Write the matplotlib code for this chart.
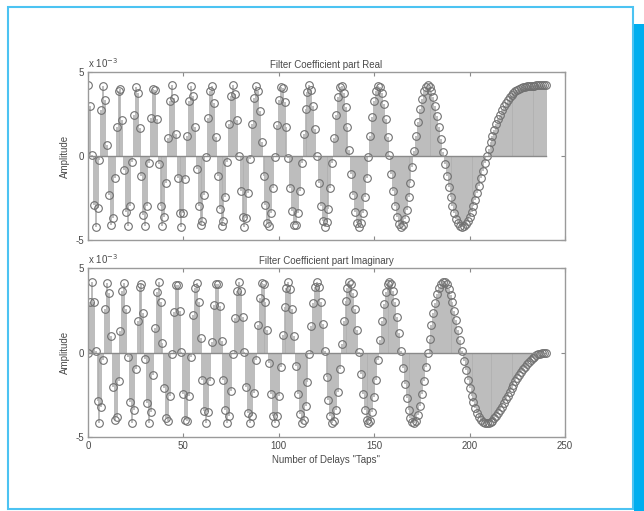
import numpy as np
import matplotlib
matplotlib.use('Agg')
import matplotlib.pyplot as plt
from matplotlib.patches import Rectangle

# Data (amplitude in units of 1e-3), taps 0..240
taps = np.arange(241)

coef_real = [
    4.20, 2.97, 0.03, -2.93, -4.20, -3.09, -0.25, 2.72, 4.18, 3.34,
    0.68, -2.33, -4.08, -3.67, -1.32, 1.70, 3.84, 4.00, 2.12, -0.81,
    -3.33, -4.19, -2.99, -0.34, 2.47, 4.08, 3.75, 1.66, -1.19, -3.49,
    -4.18, -2.97, -0.44, 2.28, 3.99, 3.94, 2.19, -0.49, -2.95, -4.16,
    -3.64, -1.61, 1.06, 3.29, 4.20, 3.43, 1.32, -1.29, -3.40, -4.20,
    -3.41, -1.36, 1.19, 3.29, 4.19, 3.58, 1.71, -0.76, -2.95, -4.12,
    -3.88, -2.34, -0.03, 2.28, 3.84, 4.15, 3.14, 1.15, -1.19, -3.15,
    -4.14, -3.88, -2.47, -0.34, 1.88, 3.55, 4.20, 3.67, 2.12, 0.01,
    -2.10, -3.63, -4.20, -3.67, -2.19, -0.17, 1.88, 3.46, 4.18, 3.88,
    2.66, 0.83, -1.19, -2.93, -3.99, -4.15, -3.40, -1.91, -0.03, 1.85,
    3.33, 4.12, 4.06, 3.20, 1.71, -0.10, -1.88, -3.29, -4.08, -4.12,
    -3.41, -2.11, -0.44, 1.29, 2.79, 3.81, 4.20, 3.90, 2.99, 1.61,
    0.00, -1.60, -2.95, -3.86, -4.20, -3.94, -3.14, -1.91, -0.44, 1.08,
    2.45, 3.49, 4.08, 4.17, 3.75, 2.90, 1.71, 0.34, -1.06, -2.33,
    -3.33, -3.98, -4.20, -4.00, -3.40, -2.47, -1.32, -0.06, 1.19, 2.33,
    3.25, 3.88, 4.18, 4.13, 3.75, 3.09, 2.19, 1.15, 0.03, -1.08,
    -2.10, -2.97, -3.62, -4.04, -4.20, -4.10, -3.75, -3.20, -2.47, -1.61,
    -0.68, 0.27, 1.19, 2.05, 2.79, 3.39, 3.84, 4.11, 4.20, 4.12,
    3.88, 3.50, 2.99, 2.38, 1.71, 0.99, 0.25, -0.49, -1.19, -1.85,
    -2.45, -2.97, -3.40, -3.74, -3.99, -4.14, -4.20, -4.17, -4.06, -3.88,
    -3.64, -3.34, -2.99, -2.60, -2.19, -1.76, -1.32, -0.88, -0.44, -0.01,
    0.41, 0.81, 1.19, 1.55, 1.88, 2.19, 2.47, 2.72, 2.95, 3.15,
    3.33, 3.49, 3.62, 3.74, 3.84, 3.92, 3.99, 4.04, 4.08, 4.12,
    4.14, 4.16, 4.18, 4.19, 4.19, 4.20, 4.20, 4.20, 4.20, 4.20,
    4.20]

coef_imag = [
    0.00, 2.97, 4.20, 3.01, 0.11, -2.85, -4.19, -3.20, -0.44, 2.55,
    4.14, 3.50, 0.98, -2.05, -3.99, -3.84, -1.71, 1.29, 3.62, 4.12,
    2.56, -0.27, -2.95, -4.19, -3.40, -0.99, 1.88, 3.86, 4.03, 2.34,
    -0.41, -2.97, -4.18, -3.53, -1.32, 1.45, 3.58, 4.17, 2.99, 0.55,
    -2.10, -3.88, -4.06, -2.60, -0.11, 2.42, 3.99, 4.00, 2.47, 0.01,
    -2.45, -3.98, -4.03, -2.60, -0.25, 2.19, 3.84, 4.13, 2.99, 0.83,
    -1.61, -3.49, -4.20, -3.53, -1.71, 0.65, 2.79, 4.04, 4.03, 2.77,
    0.68, -1.60, -3.40, -4.19, -3.75, -2.25, -0.11, 2.05, 3.62, 4.20,
    3.64, 2.11, 0.03, -2.05, -3.58, -4.20, -3.75, -2.38, -0.44, 1.60,
    3.25, 4.12, 4.03, 3.01, 1.32, -0.65, -2.47, -3.74, -4.20, -3.77,
    -2.56, -0.83, 1.06, 2.72, 3.84, 4.20, 3.75, 2.60, 0.98, -0.81,
    -2.45, -3.63, -4.18, -4.00, -3.14, -1.76, -0.11, 1.55, 2.95, 3.88,
    4.20, 3.88, 2.99, 1.66, 0.11, -1.45, -2.79, -3.74, -4.18, -4.06,
    -3.41, -2.34, -0.98, 0.49, 1.88, 3.04, 3.84, 4.19, 4.06, 3.50,
    2.56, 1.36, 0.03, -1.29, -2.47, -3.39, -3.99, -4.20, -4.03, -3.50,
    -2.66, -1.61, -0.44, 0.76, 1.88, 2.85, 3.58, 4.04, 4.20, 4.06,
    3.64, 2.97, 2.12, 1.15, 0.11, -0.92, -1.88, -2.72, -3.40, -3.88,
    -4.14, -4.19, -4.03, -3.67, -3.14, -2.47, -1.71, -0.88, -0.03, 0.81,
    1.61, 2.33, 2.95, 3.46, 3.84, 4.08, 4.19, 4.17, 4.03, 3.77,
    3.41, 2.97, 2.47, 1.91, 1.32, 0.72, 0.11, -0.49, -1.06, -1.60,
    -2.10, -2.55, -2.95, -3.29, -3.58, -3.81, -3.99, -4.11, -4.18, -4.20,
    -4.18, -4.12, -4.03, -3.90, -3.75, -3.58, -3.40, -3.20, -2.99, -2.77,
    -2.56, -2.34, -2.12, -1.91, -1.71, -1.51, -1.32, -1.15, -0.98, -0.83,
    -0.68, -0.55, -0.44, -0.34, -0.25, -0.17, -0.11, -0.06, -0.03, -0.01,
    0.00]

titles = ['Filter Coefficient part Real', 'Filter Coefficient part Imaginary']
xticks = [0, 50, 100, 150, 200, 250]
yticks = [-5, 0, 5]
ytick_labels = ['-5', '0', '5']

plt.rcParams['font.family'] = ['Liberation Sans', 'DejaVu Sans']
plt.rcParams['font.size'] = 7
txt = '#4a4a4a'

fig = plt.figure(figsize=[6.44, 5.11], dpi=100)
fig.patch.set_facecolor('white')

# cyan frame round the figure
fig.patches.append(Rectangle((8 / 644, 2 / 511), 625 / 644, 502 / 511,
                             transform=fig.transFigure, fill=False,
                             edgecolor='#4cc3f2', linewidth=1.5))
fig.patches.append(Rectangle((634 / 644, 0), 10 / 644, 487 / 511,
                             transform=fig.transFigure, facecolor='#00aeef',
                             edgecolor='none'))

ax1 = fig.add_axes([88 / 644, 1 - 240 / 511, 477 / 644, 168 / 511])
ax2 = fig.add_axes([88 / 644, 1 - 437 / 511, 477 / 644, 169 / 511])

for ax, vals, title in zip([ax1, ax2], [coef_real, coef_imag], titles):
    markers, stems, base = ax.stem(taps, vals)
    stems.set_color('#b0b0b0')
    stems.set_linewidth(1.2)
    markers.set_marker('o')
    markers.set_markersize(5.5)
    markers.set_markerfacecolor('none')
    markers.set_markeredgecolor('#707070')
    markers.set_markeredgewidth(0.8)
    base.set_color('#8a8a8a')
    base.set_linewidth(1.0)
    ax.set_xlim(0, 250)
    ax.set_ylim(-5, 5)
    ax.set_xticks(xticks)
    ax.set_yticks(yticks)
    ax.set_yticklabels(ytick_labels)
    ax.tick_params(direction='in', length=3, top=True, right=True,
                   colors='#8a8a8a', labelcolor=txt, labelsize=7, pad=3)
    for s in ax.spines.values():
        s.set_color('#9a9a9a')
        s.set_linewidth(1.0)
    ax.set_title(title, fontsize=7, color=txt, pad=3)
    ax.set_ylabel('Amplitude', fontsize=7, color=txt, labelpad=4)
    ax.text(0.0, 1.012, r'x 10$^{-3}$', transform=ax.transAxes,
            fontsize=7, color=txt, ha='left', va='bottom')

ax1.set_xticklabels([])
ax2.set_xlabel('Number of Delays "Taps"', fontsize=7, color=txt, labelpad=3)

plt.savefig('out.png', dpi=100)
